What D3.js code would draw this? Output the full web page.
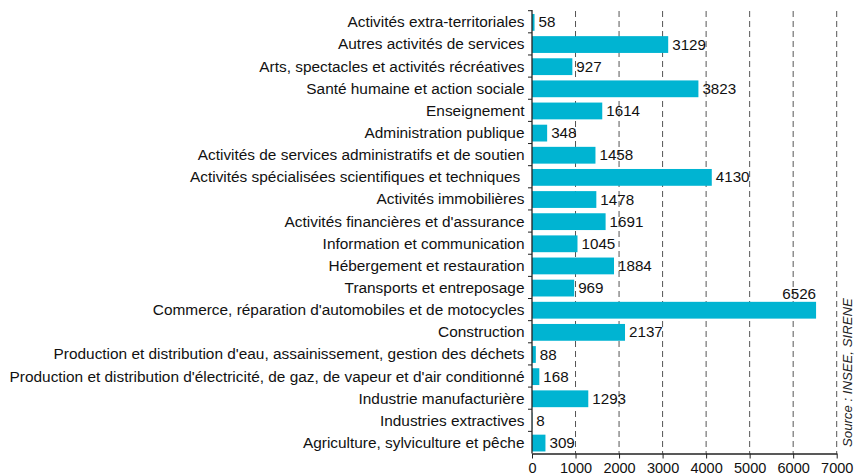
<!DOCTYPE html>
<html><head><meta charset="utf-8">
<script src="https://cdn.jsdelivr.net/npm/d3@7"></script>
<style>body{margin:0;background:#fff}svg{display:block;font-family:"Liberation Sans",Arial,sans-serif}</style>
</head><body><svg id="c" width="856" height="475"></svg>
<script>
const categories = [
"Activités extra-territoriales",
"Autres activités de services",
"Arts, spectacles et activités récréatives",
"Santé humaine et action sociale",
"Enseignement",
"Administration publique",
"Activités de services administratifs et de soutien",
"Activités spécialisées scientifiques et techniques ",
"Activités immobilières",
"Activités financières et d'assurance",
"Information et communication",
"Hébergement et restauration",
"Transports et entreposage",
"Commerce, réparation d'automobiles et de motocycles",
"Construction",
"Production et distribution d'eau, assainissement, gestion des déchets",
"Production et distribution d'électricité, de gaz, de vapeur et d'air conditionné",
"Industrie manufacturière",
"Industries extractives",
"Agriculture, sylviculture et pêche"];
const values = [58,3129,927,3823,1614,348,1458,4130,1478,1691,1045,1884,969,6526,2137,88,168,1293,8,309];
const xTicks = [0,1000,2000,3000,4000,5000,6000,7000];
const source = "Source : INSEE, SIRENE";

const svg = d3.select("#c");
const x0 = 532, x1 = 836.7, yTop = 10.7, yBot = 453.5, axisTop = 10;
const x = d3.scaleLinear().domain([0,7000]).range([x0,x1]);
const y = d3.scaleBand().domain(categories).range([yTop,yBot]).padding(0);
const inset = 3.3, barH = 16.8;

// grid
svg.append("g").selectAll("line").data(xTicks.slice(1)).join("line")
  .attr("x1",d=>x(d)).attr("x2",d=>x(d)).attr("y1",axisTop+1).attr("y2",yBot)
  .attr("stroke","#555").attr("stroke-width",1).attr("stroke-dasharray","6,4");

// bars
svg.append("g").selectAll("rect").data(values).join("rect")
  .attr("x",x(0)).attr("y",(d,i)=>y(categories[i])+inset)
  .attr("width",d=>x(d)-x(0)).attr("height",barH)
  .attr("fill","#00B4D2");

// value labels
svg.append("g").selectAll("text").data(values).join("text")
  .attr("x",d=> d>6000 ? x(d) : x(d)+4)
  .attr("y",(d,i)=> d>6000 ? y(categories[i])+inset-2.7 : y(categories[i])+inset+barH/2-0.4)
  .attr("dy",d=> d>6000 ? 0 : "0.36em")
  .attr("text-anchor",d=> d>6000 ? "end":"start")
  .attr("font-size",15.2).attr("fill","#111").text(d=>d);

// y axis
const ya = svg.append("g");
ya.append("line").attr("x1",x0).attr("x2",x0).attr("y1",axisTop).attr("y2",yBot).attr("stroke","#222").attr("stroke-width",1.3);
ya.selectAll("line.t").data(categories).join("line").attr("class","t")
  .attr("x1",x0-4).attr("x2",x0).attr("y1",d=>y(d)).attr("y2",d=>y(d))
  .attr("stroke","#222");
ya.selectAll("text").data(categories).join("text")
  .attr("x",524.5).attr("y",d=>y(d)+inset+barH/2-0.6).attr("dy","0.36em")
  .attr("text-anchor","end").attr("font-size",15.4).attr("fill","#111")
  .style("white-space","pre").text(d=>d);

// x axis
const xa = svg.append("g").attr("transform",`translate(0,${yBot})`)
  .call(d3.axisBottom(x).tickValues(xTicks).tickSize(5).tickSizeOuter(0).tickFormat(d3.format("d")));
xa.select(".domain").attr("stroke","#222").attr("stroke-width",1.3);
xa.selectAll(".tick line").attr("stroke","#222");
xa.selectAll("text").attr("font-size",14.5).attr("fill","#111").attr("y",19.5).attr("dy",0)
  .style("font-family","'Liberation Sans',Arial,sans-serif");

// source
svg.append("text").attr("transform","translate(851.5,447) rotate(-90)")
  .attr("font-size",13.2).attr("font-style","italic").attr("fill","#222").text(source);
</script></body></html>
